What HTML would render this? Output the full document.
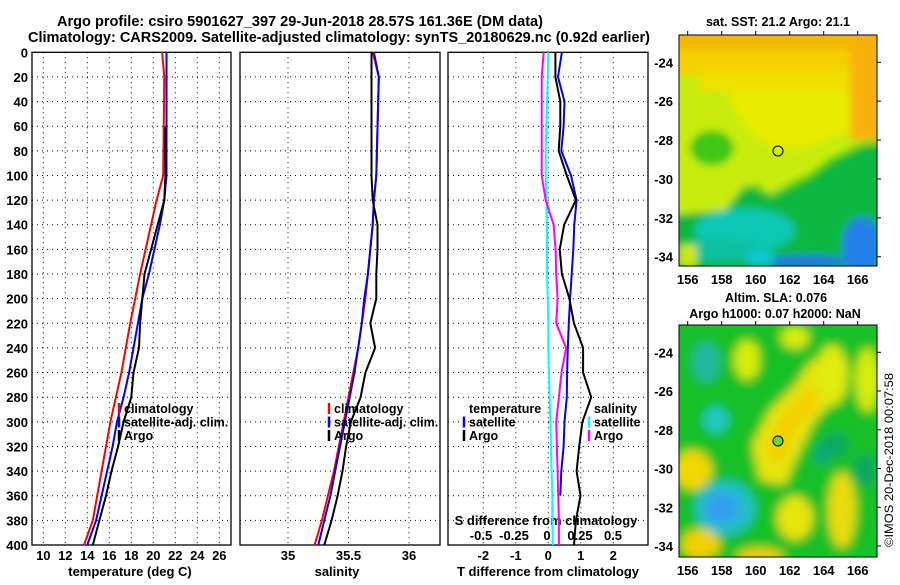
<!DOCTYPE html>
<html><head><meta charset="utf-8">
<style>
body{margin:0;background:#fff;width:900px;height:580px;overflow:hidden}
svg text{font-family:"Liberation Sans",sans-serif;font-weight:bold;fill:#000}
</style></head>
<body>
<svg id="fig" width="900" height="580" viewBox="0 0 900 580" xmlns="http://www.w3.org/2000/svg">
<defs>
<filter id="bl" x="-30%" y="-30%" width="160%" height="160%"><feGaussianBlur stdDeviation="5"/></filter>
<filter id="bl2" x="-20%" y="-20%" width="140%" height="140%"><feGaussianBlur stdDeviation="4"/></filter>
<clipPath id="c1"><rect x="679" y="35" width="198" height="231"/></clipPath>
<clipPath id="c2"><rect x="679" y="325" width="198" height="232"/></clipPath>
</defs>
<text x="57" y="26" font-size="14.5" textLength="486" lengthAdjust="spacingAndGlyphs">Argo profile: csiro 5901627_397 29-Jun-2018 28.57S 161.36E (DM data)</text>
<text x="28" y="42" font-size="14.5" textLength="622" lengthAdjust="spacingAndGlyphs">Climatology: CARS2009. Satellite-adjusted climatology: synTS_20180629.nc (0.92d earlier)</text>

<g id="map1" clip-path="url(#c1)">
<rect x="679" y="35" width="198" height="231" fill="#08c010"/>
<g filter="url(#bl2)">
<polygon points="670,25 890,25 890,140 860,145 830,160 810,175 790,185 770,195 755,185 740,195 725,215 670,225" fill="#c8ec08"/>
<polygon points="730,25 890,25 890,120 850,130 800,150 775,148 760,140 740,120 730,100" fill="#e8ec00"/>
<rect x="670" y="25" width="220" height="30" fill="#f4b800"/>
<rect x="670" y="50" width="220" height="25" fill="#f4d000"/>
<rect x="700" y="70" width="170" height="20" fill="#f0e000"/>
<rect x="850" y="30" width="35" height="110" fill="#f8b010"/>
<ellipse cx="712" cy="148" rx="22" ry="18" fill="#40c818"/>
<polygon points="670,215 725,210 745,185 770,195 800,185 830,165 860,148 890,140 890,270 670,270" fill="#08b840"/>
<ellipse cx="745" cy="230" rx="50" ry="22" fill="#10c8b4"/>
<ellipse cx="720" cy="250" rx="40" ry="12" fill="#10c0a0"/>
<ellipse cx="862" cy="245" rx="20" ry="28" fill="#2080e8"/>
<ellipse cx="805" cy="262" rx="45" ry="7" fill="#2078e0"/>
<ellipse cx="760" cy="258" rx="15" ry="8" fill="#10c8d0"/>
<rect x="679" y="245" width="18" height="22" fill="#c8e808"/>
</g>
</g>
<rect x="679" y="35" width="198" height="231" fill="none" stroke="#000"/>
<circle cx="778" cy="151" r="5" fill="none" stroke="#000"/>
<text x="778" y="26" font-size="12.5" text-anchor="middle">sat. SST: 21.2 Argo: 21.1</text>

<g id="map2" clip-path="url(#c2)">
<rect x="679" y="325" width="198" height="232" fill="#10c830"/>
<g filter="url(#bl)">
<rect x="679" y="325" width="198" height="232" fill="#18c028"/>
<polygon points="760,480 752,445 770,410 795,385 812,360 835,365 840,395 815,420 800,450 785,485" fill="#e8e410"/>
<polygon points="770,460 768,440 785,412 805,392 820,385 815,410 795,430 785,460" fill="#f4d000"/>
<ellipse cx="832" cy="375" rx="16" ry="30" fill="#e0ec10"/>
<ellipse cx="747" cy="360" rx="13" ry="20" fill="#d8ec10"/>
<ellipse cx="795" cy="337" rx="14" ry="12" fill="#d8ec10"/>
<ellipse cx="868" cy="380" rx="13" ry="32" fill="#d8ec10"/>
<ellipse cx="692" cy="470" rx="20" ry="20" fill="#f0d800"/>
<ellipse cx="795" cy="518" rx="18" ry="22" fill="#e8e410"/>
<ellipse cx="842" cy="510" rx="14" ry="38" fill="#e8dc10"/>
<ellipse cx="700" cy="545" rx="20" ry="16" fill="#f0d000"/>
<ellipse cx="760" cy="557" rx="24" ry="9" fill="#f0d000"/>
<ellipse cx="725" cy="508" rx="30" ry="27" fill="#20c0c8"/>
<ellipse cx="722" cy="508" rx="18" ry="16" fill="#30a0f0"/>
<ellipse cx="706" cy="362" rx="14" ry="20" fill="#20b8a0"/>
<ellipse cx="716" cy="420" rx="12" ry="13" fill="#20c8c8"/>
<ellipse cx="835" cy="445" rx="14" ry="12" fill="#10a860"/>
<ellipse cx="865" cy="470" rx="12" ry="15" fill="#10a860"/>
<ellipse cx="822" cy="455" rx="8" ry="10" fill="#10a880"/>
</g>
</g>
<rect x="679" y="325" width="198" height="232" fill="none" stroke="#000"/>
<circle cx="778" cy="441" r="5" fill="#66dd22" stroke="#000"/>
<text x="776" y="302" font-size="12.5" text-anchor="middle">Altim. SLA: 0.076</text>
<text x="775" y="318" font-size="12.5" text-anchor="middle">Argo h1000: 0.07 h2000: NaN</text>
<text transform="translate(893,547) rotate(-90)" font-size="11.5" style="font-weight:normal" textLength="174" lengthAdjust="spacingAndGlyphs">©IMOS 20-Dec-2018 00:07:58</text>
</svg>
<script>
const depthTicks=[0,20,40,60,80,100,120,140,160,180,200,220,240,260,280,300,320,340,360,380,400];
const tTicks=[10,12,14,16,18,20,22,24,26];
const sTicks=[35,35.5,36];
const dtTicks=[-2,-1,0,1,2];
const dsTicks=[-0.5,-0.25,0,0.25,0.5];
const dsTickLabels=["-0.5","-0.25","0","0.25","0.5"];
const lats=[-24,-26,-28,-30,-32,-34];
const lons=[156,158,160,162,164,166];
const climDepth=[0,20,100,120,140,160,180,200,220,240,260,280,300,320,340,360,380,400];
const climT=[20.8,21.0,20.9,20.3,19.8,19.3,18.8,18.35,17.9,17.5,17.1,16.6,16.1,15.7,15.3,14.9,14.5,13.7];
const satT=[21.2,21.2,21.2,21.0,20.6,20.1,19.6,19.0,18.6,18.2,17.8,17.3,16.7,16.3,15.8,15.3,14.8,14.0];
const argoDepth=[60,100,120,140,160,180,200,220,240,260,280,300,320,340,360,380,400];
const argoT=[21.1,21.1,21.0,20.4,19.8,19.2,19.0,18.8,18.7,18.2,18.0,17.3,16.8,16.2,15.7,15.1,14.5];
const climS=[35.70,35.75,35.73,35.71,35.70,35.68,35.66,35.64,35.61,35.58,35.54,35.50,35.46,35.42,35.38,35.33,35.28,35.22];
const satS=[35.71,35.75,35.73,35.71,35.70,35.68,35.66,35.63,35.61,35.58,35.55,35.51,35.47,35.43,35.39,35.35,35.30,35.25];
const argoSDepth=[0,100,120,140,160,180,200,220,240,260,280,300,320,340,360,380,400];
const argoS=[35.69,35.69,35.70,35.74,35.74,35.73,35.73,35.68,35.72,35.64,35.60,35.52,35.48,35.45,35.41,35.36,35.30];
const dDepth=[0,20,40,60,80,100,120,140,160,180,200,220,240,260,280,300,320,340,360,380,400];
const satDT=[0.42,0.3,0.5,0.47,0.4,0.7,0.87,0.8,0.77,0.72,0.67,0.63,0.6,0.58,0.57,0.5,0.47,0.4,0.37,null,null];
const argoDT=[0.22,0.22,0.37,0.37,0.32,0.57,0.85,0.49,0.35,0.42,0.65,0.79,1.07,1.07,1.32,1.05,0.95,0.87,0.99,0.85,0.79];
const satDS=[0.01,0.005,0.0,-0.005,-0.01,-0.01,-0.005,0.0,0.0,0.0,0.005,0.01,0.01,0.015,0.02,0.025,0.03,0.035,0.04,0.04,0.045];
const argoDS=[-0.025,-0.04,-0.04,-0.04,-0.04,-0.04,-0.01,0.05,0.065,0.07,0.08,0.07,0.145,0.11,0.09,0.07,0.075,0.08,0.085,0.09,0.09];

const NS="http://www.w3.org/2000/svg";
const svg=document.getElementById('fig');
function mk(tag,attrs,parent){const e=document.createElementNS(NS,tag);for(const k in attrs)e.setAttribute(k,attrs[k]);(parent||svg).appendChild(e);return e;}
const TOP=52.3, BOT=545;
const Y=d=>TOP+d*((BOT-TOP)/400);
const xT=t=>43.3+(t-10)*11;
const xS=s=>288+(s-35)*121;
const xDT=d=>548.3+d*32.5;
const xDS=s=>547+s*132;
const panels=[{x0:32,x1:231,name:'temperature'},{x0:240,x1:440,name:'salinity'},{x0:448,x1:648,name:'difference'}];

panels.forEach((p,pi)=>{
  const g=mk('g',{});
  
  
  depthTicks.forEach(d=>{
    if(d>0&&d<400){const l=mk('line',{x1:p.x0,x2:p.x1,y1:Y(d),y2:Y(d),stroke:'#000','stroke-dasharray':'1,4'},g);
    }
  });
  const xs=pi===0?tTicks.map(xT):pi===1?sTicks.map(xS):dtTicks.map(xDT);
  xs.forEach(x=>{const l=mk('line',{x1:x,x2:x,y1:TOP,y2:BOT,stroke:'#000','stroke-dasharray':'1,4'},g);
    });
  const r=mk('rect',{x:p.x0,y:TOP,width:p.x1-p.x0,height:BOT-TOP,fill:'none',stroke:'#000','stroke-width':1.3},g);
  
});
depthTicks.forEach(d=>{const t=mk('text',{x:28,y:Y(d)+5,'font-size':13,'text-anchor':'end'});t.textContent=d;
  });
tTicks.forEach(v=>{const t=mk('text',{x:xT(v),y:560,'font-size':13,'text-anchor':'middle'});t.textContent=v;
  });
sTicks.forEach(v=>{const t=mk('text',{x:xS(v),y:560,'font-size':13,'text-anchor':'middle'});t.textContent=v;
  });
dtTicks.forEach(v=>{const t=mk('text',{x:xDT(v),y:560,'font-size':13,'text-anchor':'middle'});t.textContent=v;
  });
dsTicks.forEach((v,i)=>{const t=mk('text',{x:xDS(v),y:540,'font-size':13,'text-anchor':'middle'});t.textContent=dsTickLabels[i];
  });
[['temperature (deg C)',130,'temperature-axis-title'],['salinity',337,'salinity-axis-title'],['T difference from climatology',548,'t-diff-axis-title']].forEach(a=>{
  const t=mk('text',{x:a[1],y:576,'font-size':13,'text-anchor':'middle'});t.textContent=a[0];
  });
const st=mk('text',{x:546,y:525,'font-size':13,'text-anchor':'middle'});st.textContent='S difference from climatology';


function line(depths,vals,xf,color,name,w){
  let pts=[];depths.forEach((d,i)=>{if(vals[i]!==null&&vals[i]!==undefined)pts.push(xf(vals[i]).toFixed(1)+','+Y(d).toFixed(1));});
  const pl=mk('polyline',{points:pts.join(' '),fill:'none',stroke:color,'stroke-width':w||2});
  
}
line(climDepth,climT,xT,'#f00','temperature-climatology-line');
line(climDepth,satT,xT,'#00f','temperature-satellite-line');
line(argoDepth,argoT,xT,'#000','temperature-argo-line');
line(climDepth,climS,xS,'#f00','salinity-climatology-line');
line(climDepth,satS,xS,'#00f','salinity-satellite-line');
line(argoSDepth,argoS,xS,'#000','salinity-argo-line');
line(dDepth,satDS,xDS,'#0ff','s-diff-satellite-line');
line(dDepth,argoDS,xDS,'#f0f','s-diff-argo-line');
line(dDepth,satDT,xDT,'#00f','t-diff-satellite-line');
line(dDepth,argoDT,xDT,'#000','t-diff-argo-line');

function legend(x,y,items,name){
  items.forEach((it,i)=>{
    const yy=y+i*13.5;
    if(it[1]){const m=mk('line',{x1:x,x2:x,y1:yy-10,y2:yy+1,stroke:it[1],'stroke-width':2.5});
      }
    const t=mk('text',{x:x+5,y:yy,'font-size':12.5});t.textContent=it[0];
    
  });
}
legend(119,413,[['climatology','#f00'],['satellite-adj. clim.','#00f'],['Argo','#000']],'temperature-legend');
legend(329,413,[['climatology','#f00'],['satellite-adj. clim.','#00f'],['Argo','#000']],'salinity-legend');
legend(464,413,[['temperature',null],['satellite','#00f'],['Argo','#000']],'t-diff-legend');
legend(589,413,[['salinity',null],['satellite','#0ff'],['Argo','#f0f']],'s-diff-legend');

const mlat1=l=>62.3+(-24-l)*19.44;
const mlat2=l=>352.3+(-24-l)*19.37;
const mlon=l=>687.7+(l-156)*17;
[[mlat1,266,35],[mlat2,557,325]].forEach(([f,by,ty])=>{
  lats.forEach(l=>{const t=mk('text',{x:673,y:f(l)+5,'font-size':13,'text-anchor':'end'});t.textContent=l;
    
    mk('line',{x1:877,x2:881,y1:f(l),y2:f(l),stroke:'#000'});});
  lons.forEach(l=>{const t=mk('text',{x:mlon(l),y:by+18,'font-size':13,'text-anchor':'middle'});t.textContent=l;
    
    mk('line',{x1:mlon(l),x2:mlon(l),y1:ty,y2:ty-4,stroke:'#000'});});
});
</script>
</body></html>
